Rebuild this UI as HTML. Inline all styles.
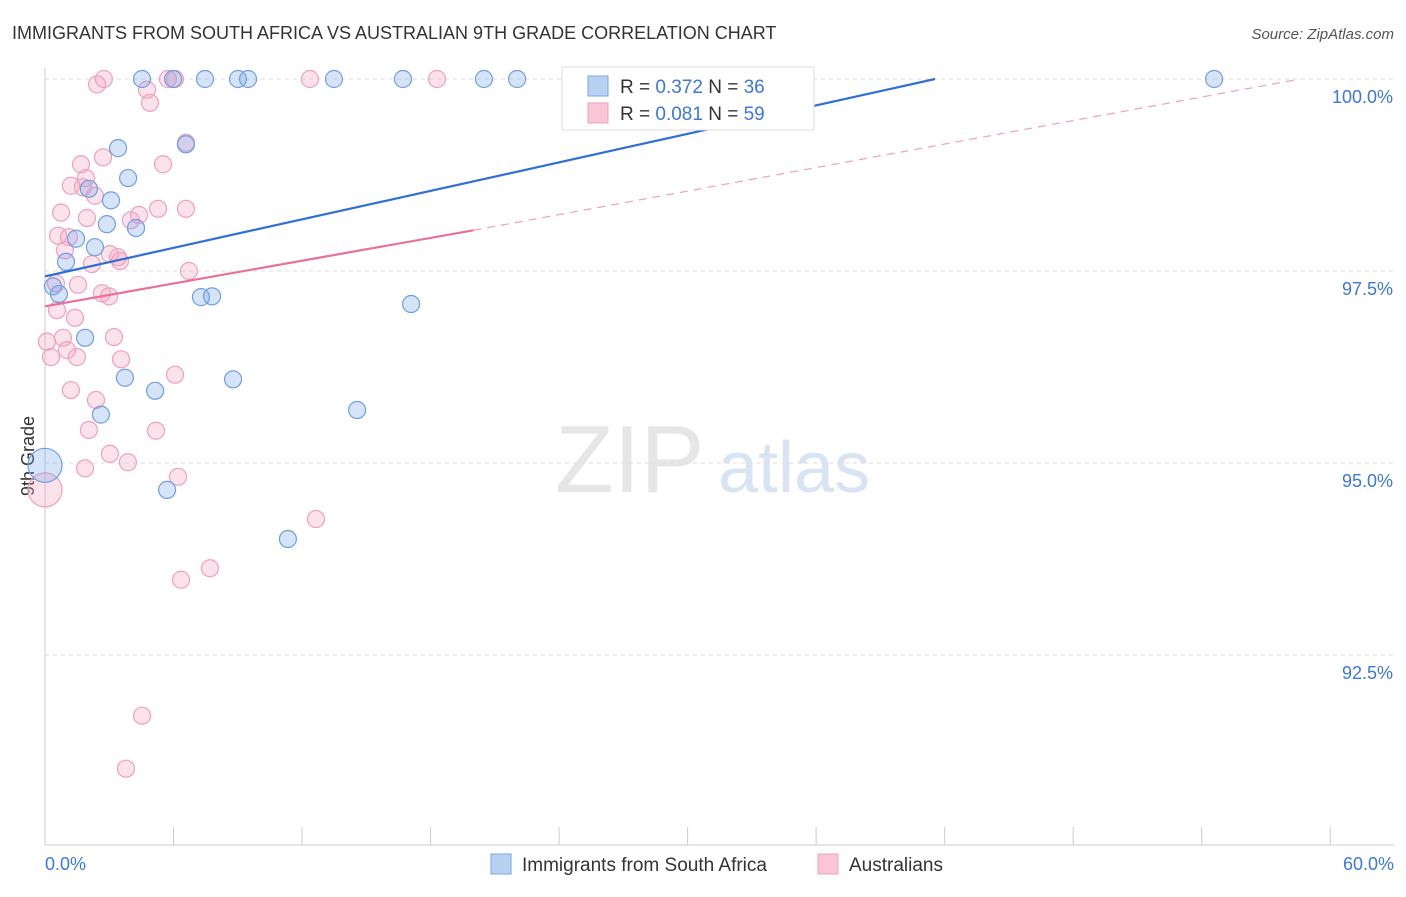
<!DOCTYPE html>
<html><head><meta charset="utf-8"><style>
body{margin:0;background:#fff;font-family:"Liberation Sans",sans-serif;}
svg text{font-family:"Liberation Sans",sans-serif;}
</style></head><body>
<svg id="c" width="1406" height="892">
<text x="12" y="39" font-size="18" fill="#333">IMMIGRANTS FROM SOUTH AFRICA VS AUSTRALIAN 9TH GRADE CORRELATION CHART</text>
<text x="1394" y="39" font-size="15" fill="#555" font-style="italic" text-anchor="end">Source: ZipAtlas.com</text>
<text x="555" y="492" font-size="96" fill="#e6e6e6" font-family="Liberation Serif">ZIP</text>
<text x="718" y="492" font-size="72" fill="#d8e4f4">atlas</text>
<text x="34" y="456" font-size="18" fill="#333" transform="rotate(-90 34 456)" text-anchor="middle">9th Grade</text>
<g id="grid"></g><g id="pts"></g><g id="trend"></g>
<g>
<rect x="562" y="67" width="252" height="63" fill="#fff" stroke="#ddd"/>
<rect x="588" y="76" width="20" height="20" fill="#b8d0f2" stroke="#7aa6e6"/>
<rect x="588" y="103" width="20" height="20" fill="#f8c6d6" stroke="#f0a0bb"/>
<text x="620" y="93" font-size="19" fill="#333">R = <tspan fill="#3b78d8">0.372</tspan>   N = <tspan fill="#3b78d8">36</tspan></text>
<text x="620" y="120" font-size="19" fill="#333">R = <tspan fill="#3b78d8">0.081</tspan>   N = <tspan fill="#3b78d8">59</tspan></text>
</g>
<g>
<rect x="491" y="854" width="20" height="20" fill="#b8d0f2" stroke="#7aa6e6"/>
<text x="522" y="871" font-size="19" fill="#333">Immigrants from South Africa</text>
<rect x="818" y="854" width="20" height="20" fill="#f8c6d6" stroke="#f0a0bb"/>
<text x="849" y="871" font-size="19" fill="#333">Australians</text>
</g>
</svg>
<script>
const blueX=[4.53,5.98,7.47,9.01,9.48,13.49,16.71,20.49,22.04,33.66,54.58,6.58,3.41,3.88,2.05,3.08,2.89,4.25,1.45,2.33,0.98,0.37,0.65,7.28,7.80,17.09,1.87,3.73,5.14,8.78,2.61,14.57,5.70,11.34,0];
const blueY=[100,100,100,100,100,100,100,100,100,100,100,99.15,99.10,98.71,98.57,98.42,98.11,98.06,97.92,97.81,97.62,97.30,97.20,97.16,97.17,97.07,96.63,96.11,95.94,96.09,95.63,95.69,94.65,94.01,94.97];
const pinkX=[2.75,2.43,4.76,4.90,5.74,6.07,12.37,18.30,6.58,2.71,1.68,5.51,1.91,1.21,1.77,2.33,0.75,5.28,6.58,4.01,4.39,1.96,0.61,1.12,0.93,3.03,3.41,3.50,2.19,6.72,1.54,0.51,2.66,2.99,0.56,1.40,0.84,3.22,0.09,1.03,1.49,0.28,3.55,1.21,6.07,2.38,2.05,5.18,3.03,3.87,1.87,6.21,0,12.65,7.70,6.35,4.53,3.78];
const pinkY=[100,99.93,99.86,99.69,100,100,100,100,99.17,98.98,98.89,98.89,98.71,98.61,98.59,98.48,98.26,98.31,98.31,98.16,98.23,98.19,97.96,97.94,97.77,97.72,97.68,97.63,97.59,97.50,97.32,97.34,97.21,97.17,96.99,96.89,96.63,96.64,96.58,96.47,96.38,96.38,96.35,95.95,96.15,95.82,95.43,95.42,95.12,95.01,94.93,94.82,94.65,94.27,93.63,93.48,91.71,91.02];
const blueTrend=[[0,97.43],[41.55,100]];
const pinkTrendSolid=[[0,97.04],[20,98.03]];
const pinkTrendDash=[[20,98.03],[58.6,100]];
const yTicks=[100,97.5,95,92.5];
const yTickLabels=["100.0%","97.5%","95.0%","92.5%"];
const xTicks=[0,6,12,18,24,30,36,42,48,54,60];
const X=v=>45+v*21.42, Y=v=>79+(100-v)*76.8;
const NS="http://www.w3.org/2000/svg";
function mk(tag,attrs,parent){const e=document.createElementNS(NS,tag);for(const k in attrs)e.setAttribute(k,attrs[k]);parent.appendChild(e);return e;}
const grid=document.getElementById('grid'),pts=document.getElementById('pts'),tr=document.getElementById('trend');
let l=mk('line',{x1:45,x2:45,y1:68,y2:845,stroke:'#ccc'},grid);


l=mk('line',{x1:45,x2:1394,y1:845,y2:845,stroke:'#ccc'},grid);


yTicks.forEach((v,i)=>{
 const g=mk('line',{x1:45,x2:1394,y1:Y(v),y2:Y(v),stroke:'#ddd','stroke-dasharray':'4,4'},grid);
 
 
 const t=mk('text',{x:1393,y:Y(v)+24,'font-size':18,fill:'#3b78d8','text-anchor':'end'},grid);t.textContent=yTickLabels[i];
 
 
});
xTicks.forEach(v=>{const t=mk('line',{x1:X(v),x2:X(v),y1:827,y2:845,stroke:'#ccc'},grid);
 
 });
let t=mk('text',{x:45,y:870,'font-size':18,fill:'#3b78d8'},grid);t.textContent='0.0%';


t=mk('text',{x:1394,y:870,'font-size':18,fill:'#3b78d8','text-anchor':'end'},grid);t.textContent='60.0%';


function dots(xs,ys,fill,stroke,name){xs.forEach((x,i)=>{const r=(x===0)?17:8.5;
 const c=mk('circle',{cx:X(x),cy:Y(ys[i]),r:r,fill:fill,stroke:stroke,'stroke-width':1.2},pts);
 
 });}
dots(pinkX,pinkY,'rgba(244,160,190,0.3)','#f0a0bb','point-australians');
dots(blueX,blueY,'rgba(120,165,235,0.3)','#6e9ee6','point-south-africa');
function line(p,stroke,w,dash,name){const a={x1:X(p[0][0]),y1:Y(p[0][1]),x2:X(p[1][0]),y2:Y(p[1][1]),stroke:stroke,'stroke-width':w};if(dash)a['stroke-dasharray']=dash;
 const e=mk('line',a,tr);
 
 }
line(pinkTrendDash,'#f0a0bb',1.2,'8,6','trend-australians-extension');
line(blueTrend,'#2f6fd6',2.2,null,'trend-south-africa');
line(pinkTrendSolid,'#e8709a',2.2,null,'trend-australians');
</script>
</body></html>
